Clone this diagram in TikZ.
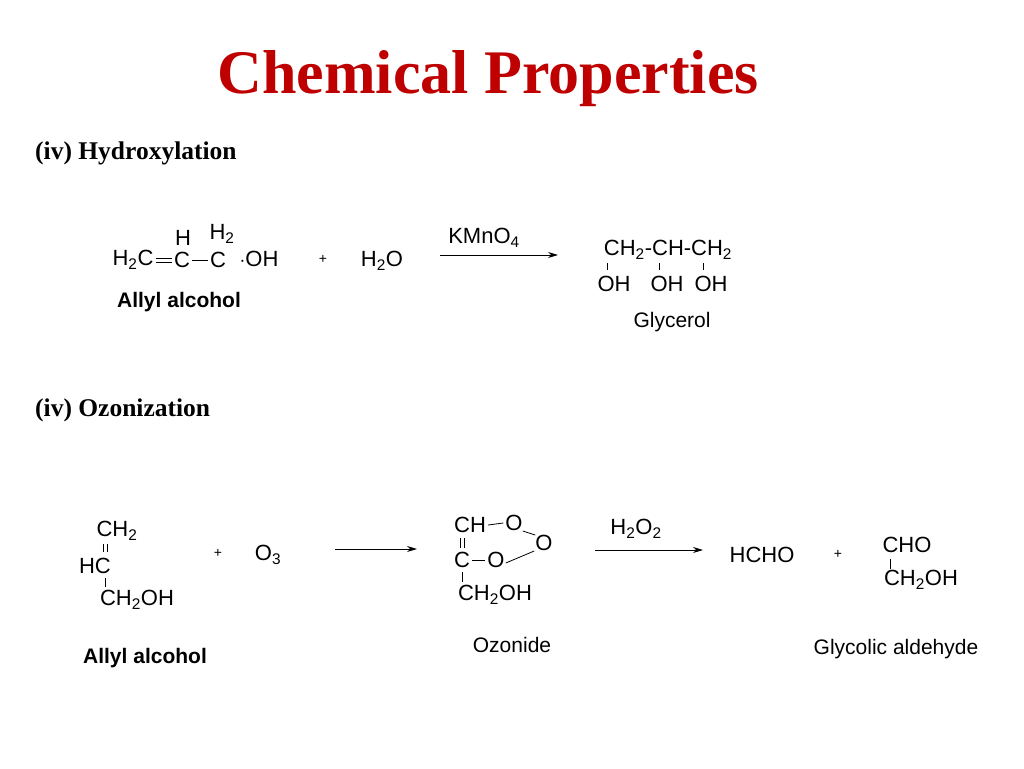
\documentclass[tikz,border=0pt]{standalone}
\usepackage{fontspec}
\setmainfont{Liberation Serif}
\setsansfont{Liberation Sans}
\usetikzlibrary{arrows.meta, positioning}
\newcommand{\ssub}[1]{\textsubscript{#1}}
\begin{document}
\begin{tikzpicture}[x=1pt,y=-1pt,
		chem/.style={font=\sffamily\fontsize{22}{24}\selectfont,inner sep=0pt},
		lab/.style={font=\sffamily\fontsize{21}{24}\selectfont,inner sep=0pt},
		head/.style={font=\bfseries\fontsize{25.5}{28}\selectfont,anchor=west,inner sep=0pt},
		bond/.style={line width=.8pt},
		rxn/.style={line width=.9pt,-{Stealth[length=10pt,width=6pt]}},
		plus/.style={font=\sffamily\fontsize{14}{16}\selectfont,inner sep=0pt}
		]
		\useasboundingbox (0,0) rectangle (1024,768);
		\node (title) [font=\bfseries\fontsize{62}{66}\selectfont,text=red!75!black] at (488,79) {Chemical Properties};
		\begin{scope}[yshift=-3pt]
		% hydroxylation
		\node (hyd) [head] at (35,150) {(iv) Hydroxylation};
		\node (h2c) [chem] at (133,257) {H\ssub{2}C};
		\node (ca) [chem] at (182,257) {C};
		\node (cb) [chem] at (218,257) {C};
		\node (oh) [chem] at (259,256) {$\cdot$OH};
		\node (ha) [chem] at (183,235) {H};
		\node (hb) [chem] at (222,231) {H\ssub{2}};
		\draw [bond] ([xshift=2pt,yshift=-2pt]h2c.east) -- ([xshift=-2pt,yshift=-2pt]ca.west);
		\draw [bond] ([xshift=2pt,yshift=2pt]h2c.east) -- ([xshift=-2pt,yshift=2pt]ca.west);
		\draw [bond] ([xshift=2pt]ca.east) -- ([xshift=-2pt]cb.west);
		\node (pa) [plus] at (323,256) {+};
		\node (h2o) [chem] at (382,258) {H\ssub{2}O};
		\coordinate (a1s) at (440,252);
		\coordinate (a1e) at (558,252);
		\draw [rxn] (a1s) -- (a1e);
		\node (kmno) [chem] at (484,235) {KMnO\ssub{4}};
		\node (gly) [chem] at (668,247) {CH\ssub{2}-CH-CH\ssub{2}};
		\node (oha) [chem] at (614,281) {OH};
		\node (ohb) [chem] at (667,281) {OH};
		\node (ohc) [chem] at (711,281) {OH};
		\foreach \o/\dx in {oha/-7,ohb/-8,ohc/-8}
			\draw [bond] ([xshift=\dx pt,yshift=6pt]\o.north) -- ++(0,-7);
		\node (allyl1) [lab,font=\sffamily\bfseries\fontsize{21}{24}\selectfont] at (179,299) {Allyl alcohol};
		\node (glyl) [lab] at (672,319) {Glycerol};
		% ozonization
		\node (ozo) [head] at (35,407) {(iv) Ozonization};
		\node (ch2) [chem] at (117,528) {CH\ssub{2}};
		\node (hc) [chem] at (95,563) {HC};
		\node (ch2oh) [chem] at (137,597) {CH\ssub{2}OH};
		\draw [bond] (103,541) -- (103,549);
		\draw [bond] (107,541) -- (107,549);
		\draw [bond] (105,575) -- (105,584);
		\node (pb) [plus] at (218,550) {+};
		\node (o3) [chem] at (268,552) {O\ssub{3}};
		\coordinate (a2s) at (335,546);
		\coordinate (a2e) at (417,546);
		\draw [rxn] (a2s) -- (a2e);
		\node (zch) [chem] at (470,522) {CH};
		\node (zo1) [chem] at (514,520) {O};
		\node (zo2) [chem] at (544,540) {O};
		\node (zc) [chem] at (462,557) {C};
		\node (zo3) [chem] at (496,557) {O};
		\node (zch2oh) [chem] at (495,592) {CH\ssub{2}OH};
		\draw [bond] (460,535) -- (460,545);
		\draw [bond] (464,535) -- (464,545);
		\draw [bond] ([xshift=2pt]zch.east) -- ([xshift=-2pt]zo1.west);
		\draw [bond] (zo1.south east) -- (zo2.north west);
		\draw [bond] ([xshift=2pt]zc.east) -- ([xshift=-2pt]zo3.west);
		\draw [bond] ([xshift=1pt,yshift=-3pt]zo3.east) -- ([xshift=-1pt]zo2.south west);
		\draw [bond] (462,569) -- (462,579);
		\node (ozl) [lab] at (512,642) {Ozonide};
		\coordinate (a3s) at (595,547);
		\coordinate (a3e) at (703,547);
		\draw [rxn] (a3s) -- (a3e);
		\node (h2o2) [chem] at (636,526) {H\ssub{2}O\ssub{2}};
		\node (hcho) [chem] at (762,552) {HCHO};
		\node (pc) [plus] at (838,551) {+};
		\node (cho) [chem] at (907,542) {CHO};
		\node (ch2ohb) [chem] at (921,577) {CH\ssub{2}OH};
		\draw [bond] (890,556) -- (890,566);
		\node (gal) [lab] at (896,646) {Glycolic aldehyde};
		\node (allyl2) [lab,font=\sffamily\bfseries\fontsize{21}{24}\selectfont] at (145,655) {Allyl alcohol};
		\end{scope}
\end{tikzpicture}
\end{document}
